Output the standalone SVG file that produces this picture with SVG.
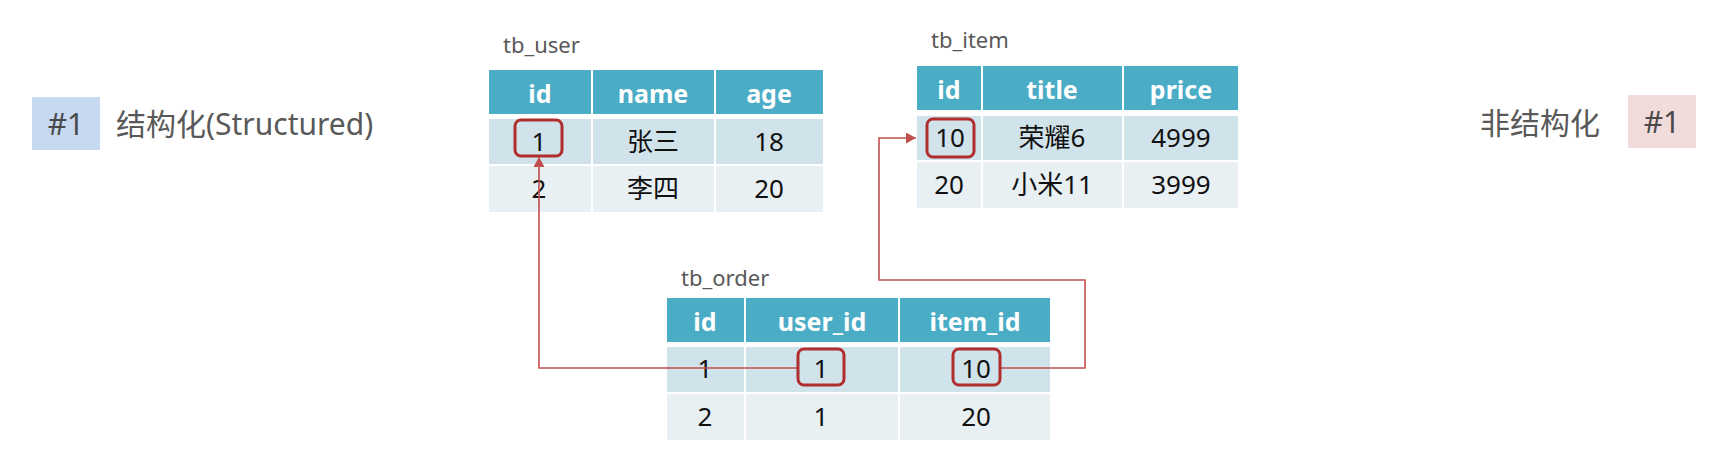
<svg xmlns="http://www.w3.org/2000/svg" width="1730" height="463" viewBox="0 0 1730 463">
<style>
text{font-family:"Noto Sans","Noto Sans CJK SC",sans-serif}
.hd{fill:#4BACC6}
.r1{fill:#D1E3EA}
.r2{fill:#E9F0F4}
.ht{fill:#fff;font-size:25px;font-weight:bold;text-anchor:middle}
.dt{fill:#111;font-size:26px;text-anchor:middle}
.lbl{fill:#595959;font-size:22px}
.big{fill:#595959;font-size:30px}
.tag{fill:#4a4a4a;font-size:30px;text-anchor:middle}
.hl{fill:none;stroke:#B02E2E;stroke-width:3;rx:6}
.cn{fill:none;stroke:#C0504D;stroke-width:1.6}
</style>
<defs>
<marker id="ah" viewBox="0 0 10 11" refX="10" refY="5.5" markerWidth="10" markerHeight="11" markerUnits="userSpaceOnUse" orient="auto">
<path d="M0,0 L10,5.5 L0,11 Z" fill="#C0504D"/>
</marker>
</defs>
<rect width="1730" height="463" fill="#fff"/>

<g id="label-structured">
<rect x="32" y="97" width="68" height="53" fill="#C6D9F0"/>
<text class="tag" x="66" y="135">#1</text>
<text class="big" x="116" y="135">结构化(Structured)</text>
</g>

<g id="label-unstructured">
<text class="big" x="1480" y="134">非结构化</text>
<rect x="1628" y="95" width="68" height="53" fill="#F2DCDB"/>
<text class="tag" x="1662" y="133">#1</text>
</g>

<g id="tb_user">
<text class="lbl" x="503" y="53">tb_user</text>
<rect class="hd" x="489" y="70" width="102" height="44"/>
<rect class="hd" x="593" y="70" width="121" height="44"/>
<rect class="hd" x="716" y="70" width="107" height="44"/>
<rect class="r1" x="489" y="119" width="102" height="45"/>
<rect class="r1" x="593" y="119" width="121" height="45"/>
<rect class="r1" x="716" y="119" width="107" height="45"/>
<rect class="r2" x="489" y="166" width="102" height="46"/>
<rect class="r2" x="593" y="166" width="121" height="46"/>
<rect class="r2" x="716" y="166" width="107" height="46"/>
<text class="ht" x="540" y="103">id</text>
<text class="ht" x="653" y="103">name</text>
<text class="ht" x="769" y="103">age</text>
<text class="dt" x="539" y="151">1</text>
<text class="dt" x="653" y="151">张三</text>
<text class="dt" x="769" y="151">18</text>
<text class="dt" x="539" y="198">2</text>
<text class="dt" x="653" y="198">李四</text>
<text class="dt" x="769" y="198">20</text>
<rect class="hl" x="515" y="120" width="47" height="36"/>
</g>

<g id="tb_item">
<text class="lbl" x="931" y="48">tb_item</text>
<rect class="hd" x="917" y="66" width="64" height="44"/>
<rect class="hd" x="983" y="66" width="139" height="44"/>
<rect class="hd" x="1124" y="66" width="114" height="44"/>
<rect class="r1" x="917" y="116" width="64" height="44"/>
<rect class="r1" x="983" y="116" width="139" height="44"/>
<rect class="r1" x="1124" y="116" width="114" height="44"/>
<rect class="r2" x="917" y="162" width="64" height="46"/>
<rect class="r2" x="983" y="162" width="139" height="46"/>
<rect class="r2" x="1124" y="162" width="114" height="46"/>
<text class="ht" x="949" y="99">id</text>
<text class="ht" x="1052" y="99">title</text>
<text class="ht" x="1181" y="99">price</text>
<text class="dt" x="950" y="147">10</text>
<text class="dt" x="1052" y="147">荣耀6</text>
<text class="dt" x="1181" y="147">4999</text>
<text class="dt" x="949" y="194">20</text>
<text class="dt" x="1052" y="194">小米11</text>
<text class="dt" x="1181" y="194">3999</text>
<rect class="hl" x="927" y="119" width="47" height="38"/>
</g>

<g id="tb_order">
<text class="lbl" x="681" y="286">tb_order</text>
<rect class="hd" x="667" y="298" width="77" height="44"/>
<rect class="hd" x="746" y="298" width="152" height="44"/>
<rect class="hd" x="900" y="298" width="150" height="44"/>
<rect class="r1" x="667" y="347" width="77" height="45"/>
<rect class="r1" x="746" y="347" width="152" height="45"/>
<rect class="r1" x="900" y="347" width="150" height="45"/>
<rect class="r2" x="667" y="394" width="77" height="46"/>
<rect class="r2" x="746" y="394" width="152" height="46"/>
<rect class="r2" x="900" y="394" width="150" height="46"/>
<text class="ht" x="705" y="331">id</text>
<text class="ht" x="822" y="331">user_id</text>
<text class="ht" x="975" y="331">item_id</text>
<text class="dt" x="705" y="378">1</text>
<text class="dt" x="821" y="378">1</text>
<text class="dt" x="976" y="378">10</text>
<text class="dt" x="705" y="426">2</text>
<text class="dt" x="821" y="426">1</text>
<text class="dt" x="976" y="426">20</text>
</g>

<g id="connectors">
<path class="cn" d="M798,368 H539 V157" marker-end="url(#ah)"/>
<path class="cn" d="M1000,368 H1085 V280 H879 V138 H916" marker-end="url(#ah)"/>
</g>

<g id="highlights">
<rect class="hl" x="798" y="349" width="46" height="36"/>
<rect class="hl" x="953" y="349" width="47" height="36"/>
</g>
</svg>
